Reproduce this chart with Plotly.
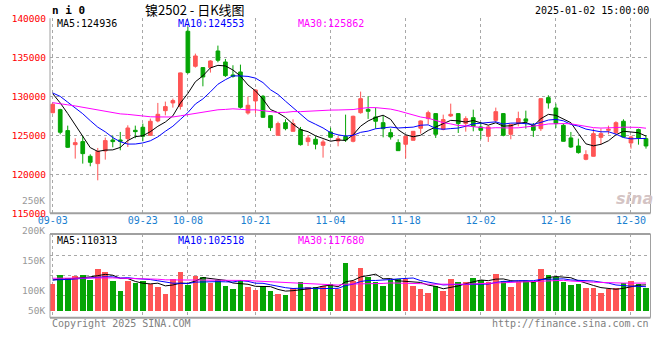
import plotly.graph_objects as go
import pandas as pd

# ---------------- data ----------------
dates = ["09-03","09-04","09-05","09-06","09-09","09-10","09-11","09-12","09-13","09-18","09-19","09-20",
         "09-23","09-24","09-25","09-26","09-27","09-30",
         "10-08","10-09","10-10","10-11","10-14","10-15","10-16","10-17","10-18","10-21","10-22","10-23",
         "10-24","10-25","10-28","10-29","10-30","10-31",
         "11-01","11-04","11-05","11-06","11-07","11-08","11-11","11-12","11-13","11-14","11-15","11-18",
         "11-19","11-20","11-21","11-22","11-25","11-26","11-27","11-28","11-29",
         "12-02","12-03","12-04","12-05","12-06","12-09","12-10","12-11","12-12","12-13","12-16","12-17",
         "12-18","12-19","12-20","12-23","12-24","12-25","12-26","12-27","12-30","12-31","01-02"]

tick_labels = ["09-03","09-23","10-08","10-21","11-04","11-18","12-02","12-16","12-30"]

opens = [127900,128290,125600,123800,124190,122310,121370,122990,124400,124400,124570,125640,126030,
         125000,126840,128160,129150,128700,138340,133850,133680,133680,135810,134400,132740,133120,
         127860,129400,130000,127520,125000,126620,125510,125730,124190,124490,123720,125430,124270,
         124850,124230,127900,128330,127350,126620,125340,124060,123850,124360,125900,127140,127780,
         125770,127480,127780,126500,127260,126070,124870,126920,127780,125130,126500,127100,126280,
         125850,129830,128500,126280,124660,123630,121920,122310,124740,125640,125340,126800,124020,
         125730,124570]
highs = [129100,128400,126240,124620,124960,122560,123380,124700,124960,125430,126280,126240,126500,
         127140,129150,129320,129700,133040,138890,135470,133720,134620,136500,134790,133980,134060,
         129960,130900,130170,127560,126750,127050,127050,126070,125040,124870,124450,125980,124910,
         127650,127520,130600,130000,128550,127520,125850,124490,124960,125540,126920,128160,127800,
         127650,129060,127800,127440,128290,126710,126280,128550,127860,126400,128030,128160,126580,
         129740,130130,129060,126500,125430,124570,123080,125850,125850,126240,126800,127050,124960,
         125850,125000]
lows = [127800,125130,123380,122010,121370,121030,119230,121880,123460,123080,123500,124620,124230,
        124950,126670,127560,128550,128300,132900,133680,131280,133040,134360,132480,132390,128420,
        127650,127780,127220,125560,125000,125640,125510,123680,123630,123200,122140,124700,123590,
        124150,124100,127780,127100,125850,124740,124450,123000,122050,124330,125210,126410,124660,
        125640,127350,125300,125470,125510,124490,124150,126710,124870,124490,126150,125850,124790,
        125560,128420,125940,124200,123380,122650,121800,122280,123800,125130,125130,124760,123290,
        123800,123290]
closes = [128980,125390,123460,124060,122650,121540,122950,124320,124190,124230,125940,125470,124870,
          126800,127690,128680,129450,133000,133040,135170,132480,134530,134620,132650,132570,128590,
          128850,130810,127310,125980,126500,125850,126500,123800,124660,123850,124150,124740,124570,
          124400,127440,129700,128080,126800,125850,124790,123030,124870,125510,126840,127900,125130,
          127010,127690,126500,127140,126150,125640,126070,128030,125000,126370,127140,126800,125640,
          129700,129150,126500,124230,123500,122780,122520,125210,125210,125770,126620,124790,124790,
          124660,123630]
volumes = [114500,153100,139000,147500,153100,133000,178900,167300,128700,85800,128700,117500,128700,
           114500,100400,71600,136000,167300,111500,150100,144500,117500,133000,105900,93100,131700,
           102900,88800,107200,85800,71600,67300,97400,123100,100400,100400,107200,114500,91800,
           205900,128700,183100,143300,121800,107200,133000,136000,136000,107200,93100,77200,107200,
           85800,136000,124400,124400,140300,133000,121800,157400,128700,102900,121800,128700,128700,
           178900,153100,143300,121800,110200,114500,97400,97400,75900,91800,97400,116700,129500,
           112400,97400]

# estimated sessions before 09-03 (only feed the moving averages)
prior_close = [128200,128900,128400,127600,128100,128800,129300,128600,128000,127900,128500,129100,
               128700,128300,128900,129400,128600,128200,128800,128900,129800,130900,131200,130300,
               130400,131300,130300,131600,129500]
prior_volume = [138000,151000,146000,132000,140000,155000,149000,137000,128000,144000,150000,141000,
                136000,147000,152000,139000,133000,145000,148000,142000,127000,140000,129000,135000,
                127500,131000,142000,136000,135000]

price_ma_text = ["MA5:124936", "MA10:124553", "MA30:125862"]
vol_ma_text = ["MA5:110313", "MA10:102518", "MA30:117680"]
vol_axis_labels = ["250K", "200K", "150K", "100K", "50K"]
price_ticks = [115000, 120000, 125000, 130000, 135000, 140000]

# ---------------- styling ----------------
W, H = 660, 360
RED = "#ff5555"
GREEN = "#05a505"
BLUE_TXT = "#1a80d0"
GRID = "#a8a8a8"
BORDER = "#a0a0a0"
MONO = "DejaVu Sans Mono"
MA_COLORS = ["#000000", "#0000ff", "#ff00ff"]

def px(x):
    return x / W

def py(y):
    return 1 - y / H

XL, XR = 50, 650.5
M_TOP, M_BOT = 18.3, 213.3
V_TOP, V_BOT = 234, 317.7

n = len(closes)
x = list(range(n))
tick_idx = [dates.index(d) for d in tick_labels]

close_all = pd.Series(prior_close + closes, dtype=float)
vol_all = pd.Series(prior_volume + volumes, dtype=float)
np_ = len(prior_close)
ma_periods = [5, 10, 30]

fig = go.Figure()

fig.add_trace(go.Candlestick(
    x=x, open=opens, high=highs, low=lows, close=closes,
    increasing=dict(line=dict(color=RED, width=1), fillcolor=RED),
    decreasing=dict(line=dict(color=GREEN, width=1), fillcolor=GREEN),
    whiskerwidth=0, xaxis="x", yaxis="y", showlegend=False, hoverinfo="skip"))

for p, col in zip(ma_periods, MA_COLORS):
    ma = close_all.rolling(p).mean().iloc[np_:].tolist()
    fig.add_trace(go.Scatter(x=x, y=ma, mode="lines", line=dict(color=col, width=1),
                             xaxis="x", yaxis="y", showlegend=False, hoverinfo="skip"))

bar_colors = [RED if c >= o else GREEN for o, c in zip(opens, closes)]
fig.add_trace(go.Bar(x=x, y=volumes, marker=dict(color=bar_colors, line=dict(width=0)),
                     width=0.74, xaxis="x2", yaxis="y2", showlegend=False, hoverinfo="skip"))

for p, col in zip(ma_periods, MA_COLORS):
    ma = vol_all.rolling(p).mean().iloc[np_:].tolist()
    fig.add_trace(go.Scatter(x=x, y=ma, mode="lines", line=dict(color=col, width=1),
                             xaxis="x2", yaxis="y2", showlegend=False, hoverinfo="skip"))

xr = [-0.36, 79.6]
vol_per_px = 4289.0
vol_range = [-(V_BOT - 310.7) * vol_per_px, (310.7 - V_TOP) * vol_per_px]
vol_grid = [(310.7 - yy) * vol_per_px for yy in (255.7, 275.7, 295.7)]

fig.update_layout(
    width=W, height=H, margin=dict(l=0, r=0, t=0, b=0),
    paper_bgcolor="white", plot_bgcolor="white", showlegend=False,
    barmode="overlay", bargap=0,
    xaxis=dict(domain=[px(XL), px(XR)], range=xr, tickvals=tick_idx, ticktext=tick_labels,
               showgrid=True, gridcolor=GRID, griddash="dot", gridwidth=1, zeroline=False,
               showline=False, ticks="", tickfont=dict(family=MONO, size=10, color=BLUE_TXT),
               rangeslider=dict(visible=False), anchor="y", automargin=False),
    yaxis=dict(domain=[py(M_BOT), py(M_TOP)], range=[115000, 140000], tickvals=price_ticks,
               ticktext=[str(v) for v in price_ticks], showgrid=True, gridcolor=GRID, griddash="dot",
               zeroline=False, showline=False, ticks="", ticklabelstandoff=3,
               tickfont=dict(family=MONO, size=9.5, color="#ff0000"), anchor="x", automargin=False),
    xaxis2=dict(domain=[px(XL), px(XR)], range=xr, tickvals=tick_idx, showticklabels=False,
                showgrid=True, gridcolor=GRID, griddash="dot", zeroline=False, showline=False,
                ticks="", anchor="y2", automargin=False),
    yaxis2=dict(domain=[py(V_BOT), py(V_TOP)], range=vol_range, tickvals=vol_grid,
                showticklabels=False, showgrid=True, gridcolor=GRID, griddash="dot",
                zeroline=False, showline=False, ticks="", anchor="x2", automargin=False),
)

shapes = []
def line(x0, y0, x1, y1, w=1, dash="solid", color=BORDER):
    shapes.append(dict(type="line", xref="paper", yref="paper", x0=px(x0), y0=py(y0),
                       x1=px(x1), y1=py(y1), line=dict(color=color, width=w, dash=dash)))

# main panel frame
line(XL, M_TOP, XL, M_BOT)
line(XR, M_TOP, XR, M_BOT)
line(XL, M_BOT, XR, M_BOT, w=2)
# volume panel frame
line(XL, V_TOP, XR, V_TOP, w=2)
line(XL, V_BOT, XR, V_BOT, w=2)
line(XL, V_TOP, XL, V_BOT)
line(XR, V_TOP, XR, V_BOT)
fig.update_layout(shapes=shapes)

ann = []
def text(t, x0, y0, color="#000", size=10, anchor="left", family=MONO):
    ann.append(dict(text=t, x=px(x0), y=py(y0), xref="paper", yref="paper", showarrow=False,
                    xanchor=anchor, yanchor="middle", font=dict(family=family, size=size, color=color)))

text("<b>n i 0</b>", 50, 10, size=11)
text("镍2502 - 日K线图", 195, 9.5, size=13, anchor="center", family="Noto Sans CJK SC")
text("2025-01-02 15:00:00", 651, 10, anchor="right")
for t, xx, col in zip(price_ma_text, (55, 175.5, 296), MA_COLORS):
    text(t, xx, 24, color=col)
for t, xx, col in zip(vol_ma_text, (55, 175.5, 296), MA_COLORS):
    text(t, xx, 240, color=col)
for t, yy in zip(vol_axis_labels, (200.7, 230.7, 260.7, 290, 310.7)):
    text(t, 46.5, yy, color="#999999", size=9.5, anchor="right")
text("Copyright 2025 SINA.COM", 50, 323.5, color="#808080")
text("http://finance.sina.com.cn", 651, 323.5, color="#808080", anchor="right")
text("<b><i>sina</i></b>", 634, 198, color="#d4c4c4", size=16, anchor="center", family="DejaVu Sans")
fig.update_layout(annotations=ann)

fig.write_html("out.html", config={"displayModeBar": False},
               post_script="document.body.style.margin='0';document.body.style.padding='0';")
